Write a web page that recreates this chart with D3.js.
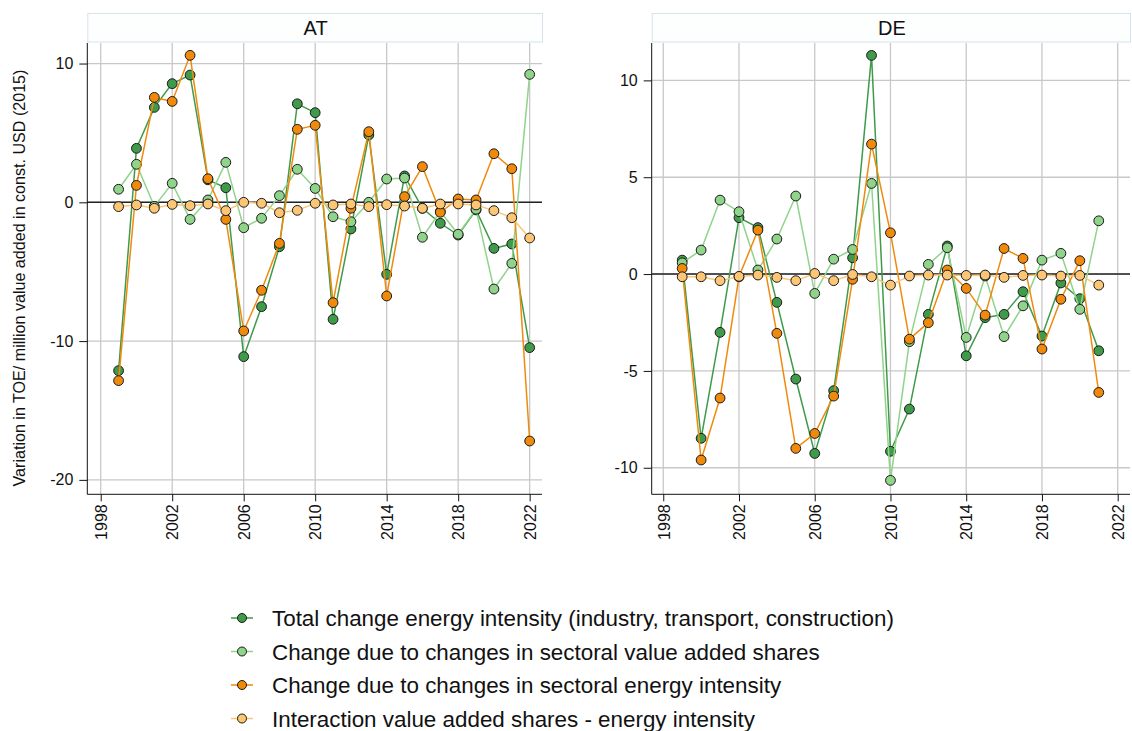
<!DOCTYPE html>
<html><head><meta charset="utf-8">
<script src="https://cdn.jsdelivr.net/npm/d3@7"></script>
<style>
body{margin:0;background:#fff}
svg{display:block}
text{font-family:"Liberation Sans",Arial,Helvetica,sans-serif;fill:#111}
</style></head><body>
<script>
// ---------- DATA ----------
const seriesNames = [
  "Total change energy intensity (industry, transport, construction)",
  "Change due to changes in sectoral value added shares",
  "Change due to changes in sectoral energy intensity",
  "Interaction value added shares - energy intensity"
];
const xTicks = [1998, 2002, 2006, 2010, 2014, 2018, 2022];

const atYears = [1999,2000,2001,2002,2003,2004,2005,2006,2007,2008,2009,2010,2011,2012,2013,2014,2015,2016,2017,2018,2019,2020,2021,2022];
const atTotal = [-12.13,3.89,6.84,8.55,9.17,1.62,1.05,-11.12,-7.52,-3.2,7.1,6.46,-8.43,-1.92,4.85,-5.19,1.9,-0.43,-1.51,-2.36,-0.55,-3.32,-3.0,-10.47];
const atShares = [0.94,2.74,-0.29,1.37,-1.23,0.17,2.88,-1.83,-1.15,0.48,2.38,1.0,-1.04,-1.4,0.0,1.68,1.75,-2.52,-0.67,-2.3,-0.5,-6.25,-4.4,9.22];
const atIntensity = [-12.85,1.22,7.56,7.27,10.59,1.7,-1.23,-9.27,-6.34,-2.96,5.26,5.55,-7.23,-0.43,5.09,-6.75,0.41,2.57,-0.72,0.24,0.17,3.5,2.42,-17.2];
const atInteraction = [-0.31,-0.19,-0.43,-0.15,-0.24,-0.12,-0.6,0.0,-0.07,-0.75,-0.58,-0.07,-0.19,-0.12,-0.31,-0.17,-0.27,-0.43,-0.12,-0.12,-0.19,-0.6,-1.11,-2.57];
const atYTicks = [-20, -10, 0, 10];

const deYears = [1999,2000,2001,2002,2003,2004,2005,2006,2007,2008,2009,2010,2011,2012,2013,2014,2015,2016,2017,2018,2019,2020,2021];
const deTotal = [0.72,-8.48,-3.01,2.91,2.4,-1.46,-5.42,-9.26,-6.02,0.84,11.29,-9.15,-6.97,-2.08,1.45,-4.22,-2.25,-2.08,-0.91,-3.2,-0.46,-1.27,-3.96];
const deShares = [0.58,1.24,3.82,3.22,0.21,1.81,4.03,-1.0,0.77,1.27,4.68,-10.65,-3.49,0.5,1.36,-3.27,-0.1,-3.23,-1.64,0.72,1.07,-1.82,2.75];
const deIntensity = [0.29,-9.6,-6.4,-0.14,2.27,-3.06,-9.0,-8.23,-6.3,-0.27,6.71,2.13,-3.36,-2.51,0.21,-0.74,-2.12,1.32,0.81,-3.87,-1.3,0.69,-6.11];
const deInteraction = [-0.14,-0.14,-0.34,-0.12,-0.05,-0.17,-0.34,0.03,-0.34,-0.02,-0.14,-0.57,-0.1,-0.05,-0.05,-0.07,-0.05,-0.17,-0.07,-0.05,-0.1,-0.07,-0.57];
const deYTicks = [-10, -5, 0, 5, 10];

// ---------- STYLE / LAYOUT ----------
const colors = ["#3f9a49", "#8fd48a", "#f08a0c", "#fdc675"];
const W = 1132, H = 731;
const plotTop = 43, plotBottom = 494.3;

const panels = [
  {name:"AT", years:atYears, series:[atTotal,atShares,atIntensity,atInteraction], yTicks:atYTicks,
   left:87.3, right:542, xDom:[1997.25, 2022.69], yDom:[-21.04, 11.48]},
  {name:"DE", years:deYears, series:[deTotal,deShares,deIntensity,deInteraction], yTicks:deYTicks,
   left:651.7, right:1130, xDom:[1997.39, 2022.65], yDom:[-11.37, 11.93]}
];

const svg = d3.select("body").append("svg").attr("width", W).attr("height", H);

panels.forEach(p => {
  const x = d3.scaleLinear().domain(p.xDom).range([p.left, p.right]);
  const y = d3.scaleLinear().domain(p.yDom).range([plotBottom, plotTop]);
  const g = svg.append("g");

  // title box
  g.append("rect").attr("x", p.left + 0.5).attr("y", 13.5).attr("width", p.right - p.left).attr("height", 28.5)
    .attr("fill", "#fdfefe").attr("stroke", "#d6e4ea").attr("stroke-width", 1);
  g.append("text").attr("x", (p.left + p.right) / 2 + 1).attr("y", 28).attr("dy", "0.36em")
    .attr("text-anchor", "middle").style("font-size", "20px").text(p.name);

  // gridlines
  g.selectAll(".vg").data(xTicks).join("line")
    .attr("x1", d => x(d)).attr("x2", d => x(d)).attr("y1", plotTop).attr("y2", plotBottom)
    .attr("stroke", "#c8c8c8").attr("stroke-width", 1.3);
  g.selectAll(".hg").data(p.yTicks).join("line")
    .attr("x1", p.left).attr("x2", p.right).attr("y1", d => y(d)).attr("y2", d => y(d))
    .attr("stroke", "#c8c8c8").attr("stroke-width", 1.3);

  // zero line
  g.append("line").attr("x1", p.left).attr("x2", p.right).attr("y1", y(0)).attr("y2", y(0))
    .attr("stroke", "#222").attr("stroke-width", 1.6);

  // axes
  const yAxis = d3.axisLeft(y).tickValues(p.yTicks).tickSize(8).tickPadding(6).tickFormat(d3.format("d"));
  const ya = g.append("g").attr("transform", `translate(${p.left},0)`).call(yAxis);
  ya.select(".domain").attr("d", `M0,${plotTop}V${plotBottom}`).attr("stroke", "#111");
  ya.selectAll(".tick line").attr("stroke", "#111");
  ya.selectAll(".tick text").style("font-size", "16px").attr("fill", "#111")
    .text(d => d < 0 ? "-" + Math.abs(d) : d);

  const xAxis = d3.axisBottom(x).tickValues(xTicks).tickSize(7).tickFormat(d3.format("d"));
  const xa = g.append("g").attr("transform", `translate(0,${plotBottom})`).call(xAxis);
  xa.select(".domain").attr("d", `M${p.left},0H${p.right}`).attr("stroke", "#111");
  xa.selectAll(".tick line").attr("stroke", "#111");
  xa.selectAll(".tick text").style("font-size", "16px").attr("fill", "#111")
    .attr("text-anchor", "end").attr("transform", "translate(0,10) rotate(-90)")
    .attr("x", 0).attr("y", 0).attr("dy", "0.36em");

  // series
  p.series.forEach((vals, si) => {
    const pts = p.years.map((yr, i) => [yr, vals[i]]);
    const line = d3.line().x(d => x(d[0])).y(d => y(d[1]));
    g.append("path").datum(pts).attr("d", line).attr("fill", "none")
      .attr("stroke", colors[si]).attr("stroke-width", 1.5);
    g.selectAll(".m" + si).data(pts).join("circle")
      .attr("cx", d => x(d[0])).attr("cy", d => y(d[1])).attr("r", 4.9)
      .attr("fill", colors[si]).attr("stroke", "#1a1a1a").attr("stroke-width", 1);
  });
});

// y axis title
svg.append("text").attr("transform", "translate(19,278) rotate(-90)")
  .attr("text-anchor", "middle").attr("dy", "0.36em").style("font-size", "16.1px")
  .text("Variation in TOE/ million value added in const. USD (2015)");

// legend
const legY = [618, 651.5, 685, 718.5];
const leg = svg.append("g");
seriesNames.forEach((name, i) => {
  leg.append("line").attr("x1", 231).attr("x2", 253).attr("y1", legY[i]).attr("y2", legY[i])
    .attr("stroke", colors[i]).attr("stroke-width", 1.5);
  leg.append("circle").attr("cx", 242).attr("cy", legY[i]).attr("r", 4.5)
    .attr("fill", colors[i]).attr("stroke", "#1a1a1a").attr("stroke-width", 1);
  leg.append("text").attr("x", 272).attr("y", legY[i]).attr("dy", "0.36em")
    .style("font-size", "22.4px").text(name);
});
</script>
</body></html>
